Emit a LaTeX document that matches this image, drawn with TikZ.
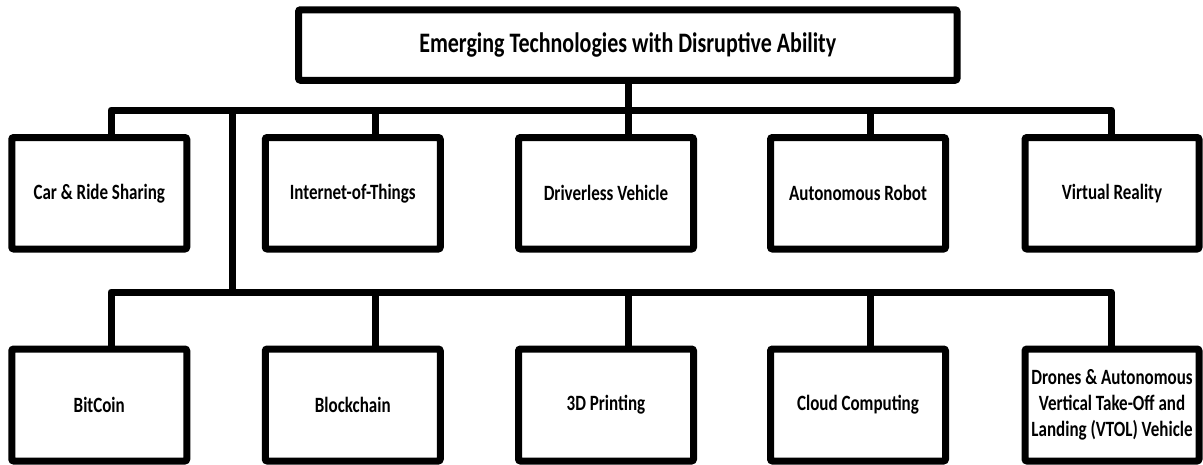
\documentclass[tikz,border=0pt]{standalone}
\usepackage{fontspec}
\setmainfont[FakeStretch=0.78]{Carlito}

\tikzset{
  techbox/.style={draw=black,line width=7pt,fill=white,rounded corners=2pt,
    minimum width=175pt,minimum height=111.5pt,inner sep=2pt,outer sep=0pt,
    align=center,font=\bfseries\fontsize{21.8}{26}\selectfont},
  link/.style={line width=7pt,line join=round}
}

\begin{document}
\begin{tikzpicture}[x=1pt,y=-1pt]
  \useasboundingbox (0,0) rectangle (1203,464);

  \node[techbox,minimum width=658.5pt,minimum height=70.5pt,
        font=\bfseries\fontsize{28.2}{33}\selectfont] (title) at (627.75,45)
        {Emerging Technologies with Disruptive Ability};

  %% bus coordinates
  \coordinate (b1) at (111,110);
  \coordinate (b2) at (375,110);
  \coordinate (b3) at (628,110);
  \coordinate (b4) at (870,110);
  \coordinate (b5) at (1111,110);
  \coordinate (trunk) at (232,110);
  \coordinate (c1) at (111,292);
  \coordinate (c2) at (375,292);
  \coordinate (c3) at (628,292);
  \coordinate (c4) at (870,292);
  \coordinate (c5) at (1111,292);

  %% first row
  \node[techbox] (car) at (99.25,193.25) {Car \& Ride Sharing};
  \node[techbox] (iot) at (352.75,193.25) {Internet-of-Things};
  \node[techbox] (dv)  at (606,193.25) {Driverless Vehicle};
  \node[techbox] (ar)  at (858,193.25) {Autonomous Robot};
  \node[techbox,minimum width=174pt] (vr) at (1112,193.25) {Virtual Reality};

  %% second row
  \node[techbox,minimum height=112pt] (btc)   at (99.25,405) {BitCoin};
  \node[techbox,minimum height=112pt] (chain) at (352.75,405) {Blockchain};
  \node[techbox,minimum height=112pt] (print) at (606,405) {3D Printing};
  \node[techbox,minimum height=112pt] (cloud) at (858,405) {Cloud Computing};
  \node[techbox,minimum height=112pt,minimum width=174pt] (vtol) at (1112,405)
    {Drones \& Autonomous\\Vertical Take-Off and\\Landing (VTOL) Vehicle};

  %% connectors
  \draw[link] (title.south -| b3) -- (b3);
  \draw[link] (b1 |- car.north) -- (b1) -- (b5) -- (b5 |- vr.north);
  \draw[link] (b2) -- (b2 |- iot.north);
  \draw[link] (b3) -- (b3 |- dv.north);
  \draw[link] (b4) -- (b4 |- ar.north);

  \draw[link] (trunk) -- (trunk |- c1);
  \draw[link] (c1 |- btc.north) -- (c1) -- (c5) -- (c5 |- vtol.north);
  \draw[link] (c2) -- (c2 |- chain.north);
  \draw[link] (c3) -- (c3 |- print.north);
  \draw[link] (c4) -- (c4 |- cloud.north);
\end{tikzpicture}
\end{document}
